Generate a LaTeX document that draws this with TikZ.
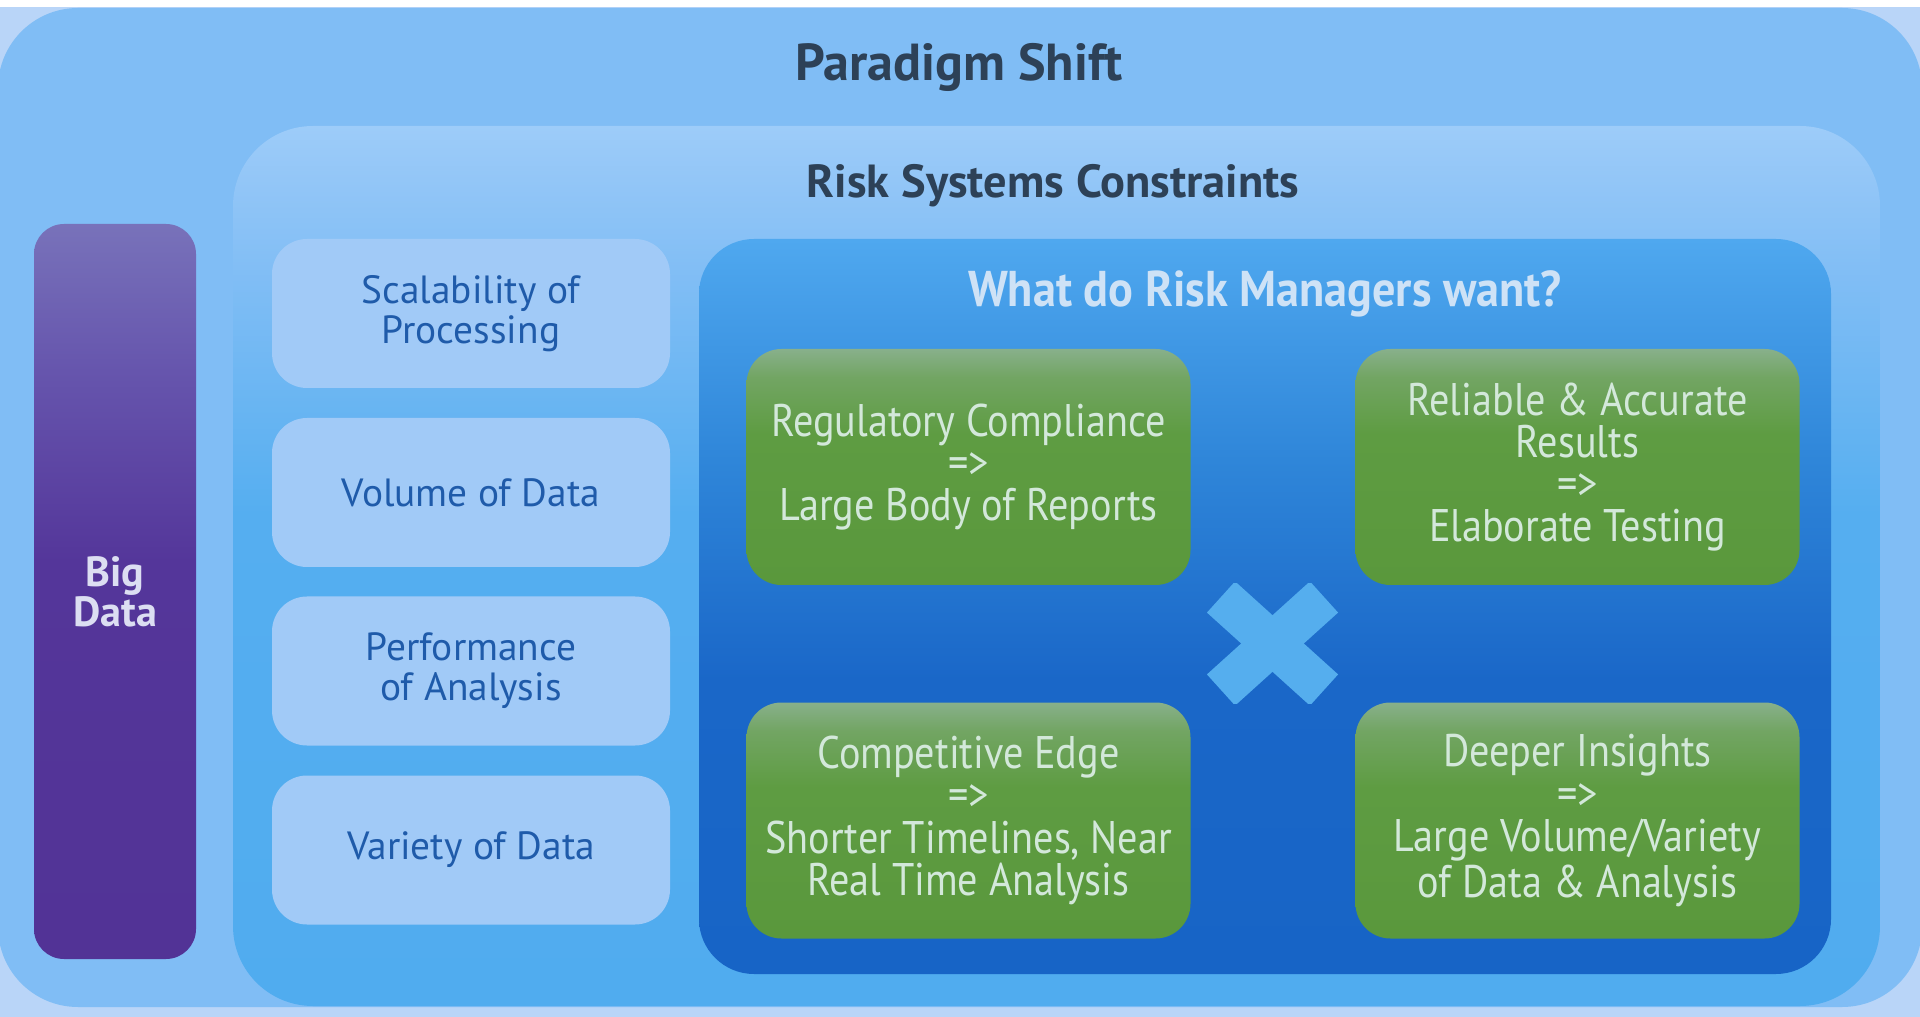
\documentclass[tikz,border=0pt]{standalone}
\usepackage{fontspec}
\setmainfont{PT Sans}
\newfontfamily\condensed[FakeStretch=0.88]{PT Sans}
\newfontfamily\condensedbold[FakeStretch=0.92]{PT Sans Bold}
\usetikzlibrary{positioning}

\definecolor{pagebg}{HTML}{B9D5F8}
\definecolor{shiftfill}{HTML}{80BDF5}
\definecolor{titletext}{HTML}{2D4157}
\definecolor{sidefill}{HTML}{A1CAF7}
\definecolor{sidetext}{HTML}{1F5BAA}
\definecolor{wanttext}{HTML}{D3E8DA}
\definecolor{paneltext}{HTML}{CEE2F6}
\definecolor{bigtext}{HTML}{DCDEF2}
\definecolor{crossfill}{HTML}{55AEEE}

% shadings: the path spans 25bp (bottom) to 75bp (top)
\pgfdeclareverticalshading{constraintshade}{100bp}{color(0bp)=(rgb,255:red,80;green,172;blue,239); color(25bp)=(rgb,255:red,80;green,172;blue,239); color(53bp)=(rgb,255:red,85;green,174;blue,240); color(67bp)=(rgb,255:red,130;green,190;blue,245); color(72bp)=(rgb,255:red,147;green,198;blue,247); color(75bp)=(rgb,255:red,157;green,204;blue,249); color(100bp)=(rgb,255:red,157;green,204;blue,249)}
\pgfdeclareverticalshading{purpleshade}{100bp}{color(0bp)=(rgb,255:red,82;green,51;blue,150); color(25bp)=(rgb,255:red,82;green,51;blue,150); color(52bp)=(rgb,255:red,84;green,54;blue,154); color(65bp)=(rgb,255:red,102;green,85;blue,173); color(75bp)=(rgb,255:red,120;green,114;blue,186); color(100bp)=(rgb,255:red,120;green,114;blue,186)}
\pgfdeclareverticalshading{panelshade}{100bp}{color(0bp)=(rgb,255:red,23;green,100;blue,198); color(25bp)=(rgb,255:red,23;green,100;blue,198); color(45bp)=(rgb,255:red,26;green,103;blue,200); color(60bp)=(rgb,255:red,47;green,134;blue,217); color(75bp)=(rgb,255:red,79;green,168;blue,239); color(100bp)=(rgb,255:red,79;green,168;blue,239)}
\pgfdeclareverticalshading{greenshade}{100bp}{color(0bp)=(rgb,255:red,90;green,152;blue,60); color(25bp)=(rgb,255:red,90;green,152;blue,60); color(57bp)=(rgb,255:red,94;green,156;blue,66); color(69bp)=(rgb,255:red,114;green,165;blue,99); color(75bp)=(rgb,255:red,136;green,176;blue,139); color(100bp)=(rgb,255:red,136;green,176;blue,139)}

\tikzset{
  heading/.style={text=titletext, font=\bfseries\fontsize{13.5}{15}\selectfont},
  bigbar/.style={shade, shading=purpleshade, rounded corners=0.3cm, minimum width=1.62cm,
    minimum height=7.35cm, align=center, text=bigtext, font=\bfseries\fontsize{12}{11.4}\selectfont},
  sidebox/.style={fill=sidefill, rounded corners=0.35cm, minimum width=3.98cm, minimum height=1.49cm,
    align=center, text=sidetext, font=\fontsize{11.2}{11.4}\selectfont},
  wantbox/.style={shade, shading=greenshade, rounded corners=0.35cm, minimum width=4.44cm,
    minimum height=2.36cm, align=center, text=wanttext, font=\condensed\fontsize{13}{12}\selectfont},
  paneltitle/.style={text=paneltext, font=\condensedbold\fontsize{14.3}{15}\selectfont},
  crossbar/.style={crossfill, line width=0.42cm, line cap=butt}
}

\begin{document}
\begin{tikzpicture}[x=1cm,y=-1cm]
\useasboundingbox (0,0) rectangle (19.2,10.17);
% page and outer frame
\fill[pagebg] (0,0) rectangle (19.2,10.17);
\fill[white] (0,0) rectangle (19.2,0.07);
\fill[shiftfill, rounded corners=0.8cm] (-0.02,0.08) rectangle (19.22,10.07);
\node[heading, font=\bfseries\fontsize{14.8}{16}\selectfont] (shift) at (9.59,0.67) {Paradigm Shift};

% constraints frame
\shade[shading=constraintshade, rounded corners=0.8cm] (2.33,1.26) rectangle (18.8,10.06);
\node[heading, font=\bfseries\fontsize{13.2}{15}\selectfont] (constraints) at (10.53,1.86) {Risk Systems Constraints};

\node[bigbar] (bigdata) at (1.15,5.915) {Big\\Data};

% constraints column
\node[sidebox] (scal) at (4.71,3.135) {Scalability of\\Processing};
\node[sidebox] (vol) at (4.71,4.925) {Volume of Data};
\node[sidebox] (perf) at (4.71,6.71) {Performance\\of Analysis};
\node[sidebox] (var) at (4.71,8.50) {Variety of Data};

% what managers want
\shade[shading=panelshade, rounded corners=0.55cm] (6.99,2.39) rectangle (18.31,9.74);
\node[paneltitle] (want) at (12.65,2.94) {What do Risk Managers want?};

\node[wantbox] (reg) at (9.685,4.67) {Regulatory Compliance\\=>\\Large Body of Reports};
\node[wantbox] (rel) at (15.775,4.67) {Reliable \& Accurate\\Results\\=>\\Elaborate Testing};
\node[wantbox] (comp) at (9.685,8.205) {Competitive Edge\\=>\\Shorter Timelines, Near\\Real Time Analysis};
\node[wantbox] (deep) at (15.775,8.205) {Deeper Insights\\=>\\Large Volume/Variety\\of Data \& Analysis};

% cross between the four boxes, ends trimmed to its box
\begin{scope}
  \clip (12.07,5.84) rectangle (13.38,7.03);
  \draw[crossbar] (12.21,5.97) -- (13.24,6.90);
  \draw[crossbar] (13.24,5.97) -- (12.21,6.90);
\end{scope}
\end{tikzpicture}
\end{document}
